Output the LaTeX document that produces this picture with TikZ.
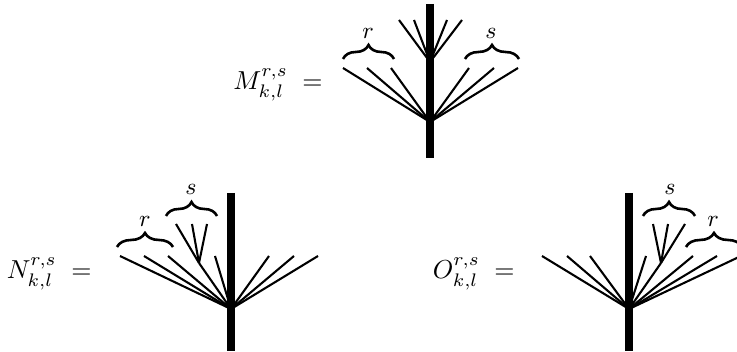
\documentclass[tikz,border=0pt]{standalone}
\usepackage{tikz}
\usetikzlibrary{decorations.pathreplacing}

\tikzset{
  trunk/.style={line width=3pt},
  branch/.style={line width=0.8pt},
  overbr/.style={decorate, decoration={brace, amplitude=5.4pt}, line width=1pt},
  lbl/.style={inner sep=0pt, anchor=east},
  arity/.style={font=\small}
}

\begin{document}
\begin{tikzpicture}[x=0.385pt, y=-0.385pt]
  \useasboundingbox (0,0) rectangle (737,352);

  % M tree
  \node[lbl] (mlabel) at (323,85) {$M^{r,s}_{k,l}\;=$};
  \coordinate (mtop) at (430,4);
  \coordinate (mbot) at (430,158);
  \coordinate (mroot) at (430,122);
  \coordinate (mup) at (430,62);
  \draw[trunk] (mtop) -- (mbot);
  \foreach \x in {343,367,391,469,494,518}
    \draw[branch] (mroot) -- (\x,68);
  \foreach \x in {399,414,447,462}
    \draw[branch] (mup) -- (\x,20);
  \draw[overbr] (343,59) -- (394,59);
  \node[arity] (mr) at (368,33) {$r$};
  \draw[overbr] (465,59) -- (519,59);
  \node[arity] (ms) at (491,33) {$s$};

  % N tree
  \node[lbl] (nlabel) at (92,274) {$N^{r,s}_{k,l}\;=$};
  \coordinate (ntop) at (231,193);
  \coordinate (nbot) at (231,351);
  \coordinate (nroot) at (231,309);
  \coordinate (nsub) at (199,263);
  \draw[trunk] (ntop) -- (nbot);
  \foreach \x in {120,144,168,215,269,294,318}
    \draw[branch] (nroot) -- (\x,256);
  \draw[branch] (nroot) -- (nsub);
  \foreach \x in {176,192,207}
    \draw[branch] (nsub) -- (\x,224);
  \draw[overbr] (117,247) -- (173,247);
  \node[arity] (nr) at (145,221) {$r$};
  \draw[overbr] (166,216) -- (217,216);
  \node[arity] (ns) at (191,189) {$s$};

  % O tree
  \node[lbl] (olabel) at (515,274) {$O^{r,s}_{k,l}\;=$};
  \coordinate (otop) at (629,193);
  \coordinate (obot) at (629,351);
  \coordinate (oroot) at (629,309);
  \coordinate (osub) at (661,263);
  \draw[trunk] (otop) -- (obot);
  \foreach \x in {542,567,590,646,693,717,741}
    \draw[branch] (oroot) -- (\x,256);
  \draw[branch] (oroot) -- (osub);
  \foreach \x in {653,668,685}
    \draw[branch] (osub) -- (\x,224);
  \draw[overbr] (643,216) -- (695,216);
  \node[arity] (os) at (670,189) {$s$};
  \draw[overbr] (686,247) -- (742,247);
  \node[arity] (or) at (713,221) {$r$};
\end{tikzpicture}
\end{document}
